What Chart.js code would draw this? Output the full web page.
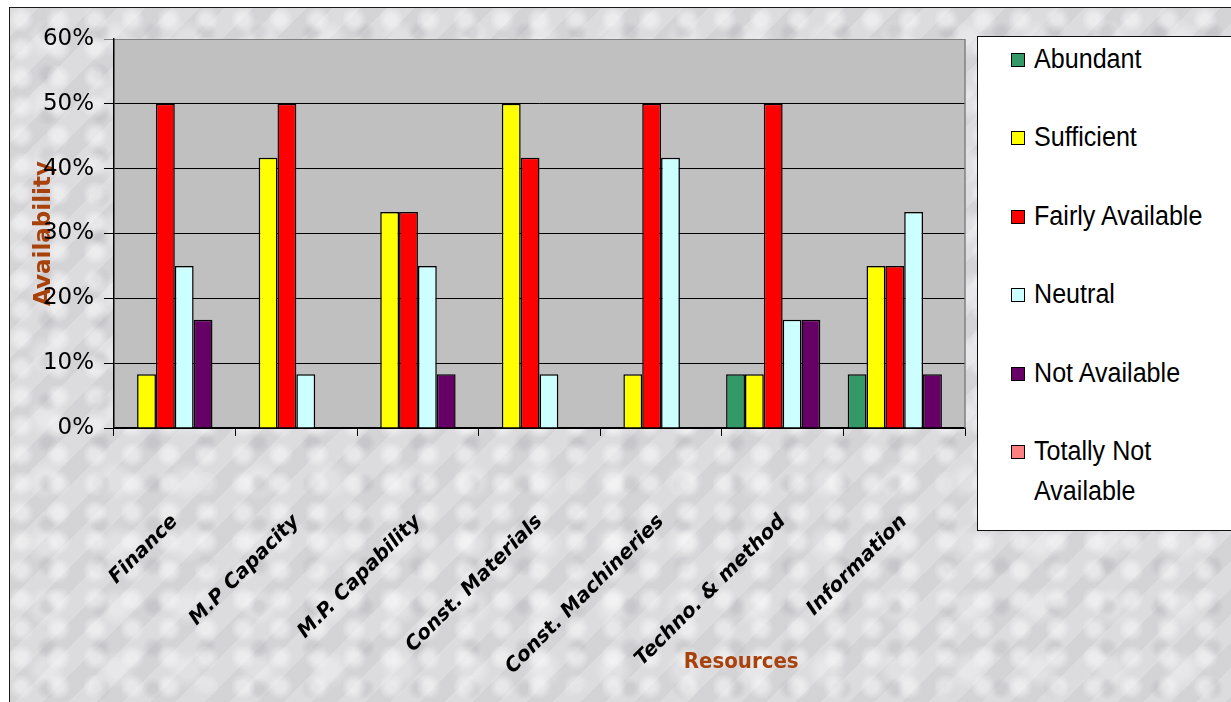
<!DOCTYPE html>
<html lang="en">
<head>
    <meta charset="UTF-8">
    <title>Resources availability</title>
    <script src="https://cdn.jsdelivr.net/npm/chart.js"></script>
    <style>
        html, body {
            margin: 0;
            padding: 0;
            background: #ffffff;
            overflow: hidden;
        }
        #page {
            position: relative;
            width: 1231px;
            height: 702px;
            overflow: hidden;
        }
        .frame {
            position: absolute;
            left: 9px;
            top: 7px;
            width: 1240px;
            height: 710px;
            border-left: 1.5px solid #1a1a1a;
            border-top: 1.5px solid #1a1a1a;
            background-color: #d8d8db;
            background-image:
                radial-gradient(circle at 30% 40%, rgba(255,255,255,0.45) 0 5px, rgba(255,255,255,0) 13px),
                radial-gradient(circle at 70% 60%, rgba(150,150,158,0.22) 0 4px, rgba(150,150,158,0) 11px),
                radial-gradient(circle at 50% 50%, rgba(255,255,255,0.3) 0 8px, rgba(255,255,255,0) 20px),
                repeating-linear-gradient(135deg, rgba(255,255,255,0.10) 0 20px, rgba(140,140,150,0.06) 20px 38px);
            background-size: 37px 29px, 53px 41px, 71px 63px, auto;
        }
        .chart-box {
            position: absolute;
            left: 0;
            top: 0;
            width: 1231px;
            height: 702px;
        }
        #legend {
            position: absolute;
            left: 977px;
            top: 36px;
            width: 270px;
            height: 493px;
            background: #ffffff;
            border: 1.5px solid #111;
        }
        .item {
            position: absolute;
            left: 33px;
            font-family: 'Liberation Sans Narrow', 'Arial Narrow', 'Liberation Sans', sans-serif;
            font-size: 27px;
            line-height: 40px;
            color: #000;
        }
        .swatch {
            position: absolute;
            left: 0;
            top: 14px;
            width: 12px;
            height: 12px;
            border: 1.5px solid #000;
        }
        .label {
            margin-left: 23px;
            width: 185px;
            transform: scaleX(0.93);
            transform-origin: left center;
        }
    </style>
</head>
<body>
<div id="page">
    <div class="frame"></div>
    <div class="chart-box"><canvas id="resChart"></canvas></div>
    <div id="legend"></div>
</div>

<script>
    const categories = ['Finance', 'M.P Capacity', 'M.P. Capability', 'Const. Materials',
        'Const. Machineries', 'Techno. & method', 'Information'];

    const seriesNames = ['Abundant', 'Sufficient', 'Fairly Available', 'Neutral',
        'Not Available', 'Totally Not Available'];

    const seriesColors = ['#339966', '#FFFF00', '#FF0000', '#CCFFFF', '#660066', '#FF8080'];

    // percentages, one list per series
    const abundant      = [0, 0, 0, 0, 0, 8.3, 8.3];
    const sufficient    = [8.3, 41.7, 33.3, 50, 8.3, 8.3, 25];
    const fairly        = [50, 50, 33.3, 41.7, 50, 50, 25];
    const neutral       = [25, 8.3, 25, 8.3, 41.7, 16.7, 33.3];
    const notAvailable  = [16.7, 0, 8.3, 0, 0, 16.7, 8.3];
    const totallyNot    = [0, 0, 0, 0, 0, 0, 0];

    const yTicks = [0, 10, 20, 30, 40, 50, 60];

    const seriesValues = [abundant, sufficient, fairly, neutral, notAvailable, totallyNot];

    const brown = '#a8420c';

    const plotBg = {
        id: 'plotBg',
        beforeDraw(chart) {
            const { ctx, chartArea: a } = chart;
            ctx.save();
            ctx.fillStyle = '#c0c0c0';
            ctx.fillRect(a.left, a.top, a.right - a.left, a.bottom - a.top);
            ctx.restore();
        },
        afterDraw(chart) {
            const { ctx, chartArea: a } = chart;
            ctx.save();
            ctx.strokeStyle = '#808080';
            ctx.lineWidth = 1.5;
            ctx.beginPath();
            ctx.moveTo(a.right, a.top);
            ctx.lineTo(a.right, a.bottom);
            ctx.stroke();
            // x axis title sits off-centre in the original
            ctx.fillStyle = brown;
            ctx.font = 'bold 22px "DejaVu Sans Condensed", "DejaVu Sans", sans-serif';
            ctx.textAlign = 'center';
            ctx.textBaseline = 'middle';
            ctx.fillText('Resources', a.left + (a.right - a.left) * 0.737, 662);
            ctx.restore();
        }
    };

    new Chart(document.getElementById('resChart'), {
        type: 'bar',
        data: {
            labels: categories,
            datasets: seriesNames.map((name, i) => ({
                label: name,
                data: seriesValues[i],
                backgroundColor: seriesColors[i],
                borderColor: '#000000',
                borderWidth: 1.5,
                categoryPercentage: 0.93,
                barPercentage: 1.0
            }))
        },
        options: {
            responsive: true,
            maintainAspectRatio: false,
            animation: false,
            layout: {
                padding: { left: 30, top: 39, right: 266, bottom: 0 }
            },
            scales: {
                x: {
                    afterFit(scale) { scale.height = 274; },
                    grid: {
                        drawOnChartArea: false,
                        drawTicks: true,
                        tickLength: 8,
                        color: '#000000',
                        offset: true
                    },
                    border: { color: '#000000', width: 1.5 },
                    ticks: {
                        minRotation: 45,
                        maxRotation: 45,
                        padding: 74,
                        color: '#000000',
                        font: { family: 'DejaVu Sans', size: 20, weight: 'bold', style: 'italic' }
                    }
                },
                y: {
                    min: 0,
                    max: 60,
                    afterFit(scale) { scale.width = 84; },
                    afterBuildTicks(scale) { scale.ticks = yTicks.map(v => ({ value: v })); },
                    grid: {
                        color: (c) => (c.tick && c.tick.value === 60 ? '#808080' : '#000000'),
                        lineWidth: 1,
                        tickLength: 10
                    },
                    border: { color: '#000000', width: 1.5 },
                    ticks: {
                        padding: 10,
                        color: '#000000',
                        font: { family: 'DejaVu Sans', size: 23 },
                        callback: (v) => v + '%'
                    },
                    title: {
                        display: true,
                        text: 'Availability',
                        color: brown,
                        padding: { top: 0, bottom: 0 },
                        font: { family: 'DejaVu Sans', size: 23, weight: 'bold' }
                    }
                }
            },
            plugins: {
                legend: { display: false },
                tooltip: { enabled: false }
            }
        },
        plugins: [plotBg]
    });

    // legend, built from the series lists
    const legend = document.getElementById('legend');
    seriesNames.forEach((name, i) => {
        const item = document.createElement('div');
        item.className = 'item';
        item.style.top = (2 + i * 78.4) + 'px';
        item.innerHTML = '<span class="swatch" style="background:' + seriesColors[i] + '"></span>' +
            '<div class="label">' + name + '</div>';
        legend.appendChild(item);
    });
</script>
</body>
</html>
